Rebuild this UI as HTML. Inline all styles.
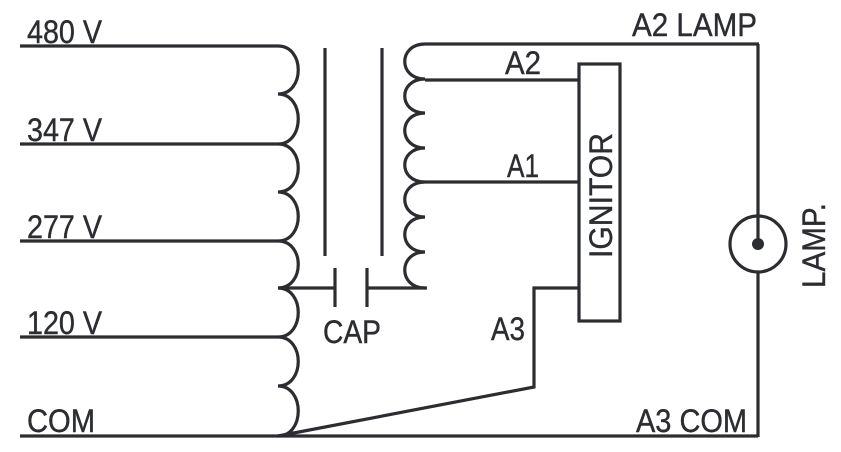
<!DOCTYPE html>
<html><head><meta charset="utf-8"><style>html,body{margin:0;padding:0;background:#fff}svg{display:block}</style></head>
<body>
<svg width="841" height="452" viewBox="0 0 841 452" xmlns="http://www.w3.org/2000/svg">
<g fill="none" stroke="#2b2d31" stroke-width="3.2">
<line x1="20" y1="46" x2="278" y2="46"/>
<line x1="20" y1="144" x2="278" y2="144"/>
<line x1="20" y1="241" x2="278" y2="241"/>
<line x1="20" y1="337" x2="278" y2="337"/>
<line x1="20" y1="436" x2="758" y2="436"/>
<path d="M278 46 C305 46,305 94,278 94 C305 94,305 144,278 144 C305 144,305 192,278 192 C305 192,305 241,278 241 C305 241,305 288,278 288 C305 288,305 337,278 337 C305 337,305 386,278 386 C305 386,305 436,278 436"/>
<line x1="325" y1="48" x2="325" y2="256"/>
<line x1="382" y1="48" x2="382" y2="256"/>
<line x1="278" y1="288" x2="335" y2="288"/>
<line x1="335" y1="268" x2="335" y2="307"/>
<line x1="367" y1="268" x2="367" y2="307"/>
<line x1="367" y1="288" x2="427" y2="288"/>
<path d="M425 44 C398 44,398 79,425 79 C398 79,398 113,425 113 C398 113,398 148,425 148 C398 148,398 182,425 182 C398 182,398 217,425 217 C398 217,398 252,425 252 C398 252,398 288,425 288"/>
<line x1="425" y1="44" x2="759" y2="44"/>
<line x1="758" y1="44" x2="758" y2="244"/>
<line x1="758" y1="272" x2="758" y2="437"/>
<line x1="425" y1="80" x2="579" y2="80"/>
<line x1="425" y1="182" x2="579" y2="182"/>
<rect x="579" y="64" width="41" height="257"/>
<polyline points="579,288 534,288 534,387 278,436"/>
<circle cx="758" cy="244" r="28"/>
</g>
<circle cx="758" cy="244" r="6" fill="#2b2d31"/>
<g font-family="Liberation Sans, sans-serif" font-size="32" fill="#2b2d31" stroke="#2b2d31" stroke-width="0.4">
<text x="27" y="43" textLength="75" lengthAdjust="spacingAndGlyphs">480 V</text>
<text x="27" y="141" textLength="75" lengthAdjust="spacingAndGlyphs">347 V</text>
<text x="27" y="238" textLength="75" lengthAdjust="spacingAndGlyphs">277 V</text>
<text x="27" y="334" textLength="75" lengthAdjust="spacingAndGlyphs">120 V</text>
<text x="27" y="432" textLength="68" lengthAdjust="spacingAndGlyphs">COM</text>
<text x="323" y="343" textLength="58" lengthAdjust="spacingAndGlyphs">CAP</text>
<text x="505" y="74" textLength="36" lengthAdjust="spacingAndGlyphs">A2</text>
<text x="507" y="177" textLength="32" lengthAdjust="spacingAndGlyphs">A1</text>
<text x="491" y="340" textLength="34" lengthAdjust="spacingAndGlyphs">A3</text>
<text x="632" y="36" textLength="125" lengthAdjust="spacingAndGlyphs">A2 LAMP</text>
<text x="636" y="432" textLength="111" lengthAdjust="spacingAndGlyphs">A3 COM</text>
<text transform="translate(612,258) rotate(-90)" textLength="125" lengthAdjust="spacingAndGlyphs">IGNITOR</text>
<text transform="translate(825,288) rotate(-90)" textLength="85" lengthAdjust="spacingAndGlyphs">LAMP.</text>
</g>
</svg>
</body></html>
